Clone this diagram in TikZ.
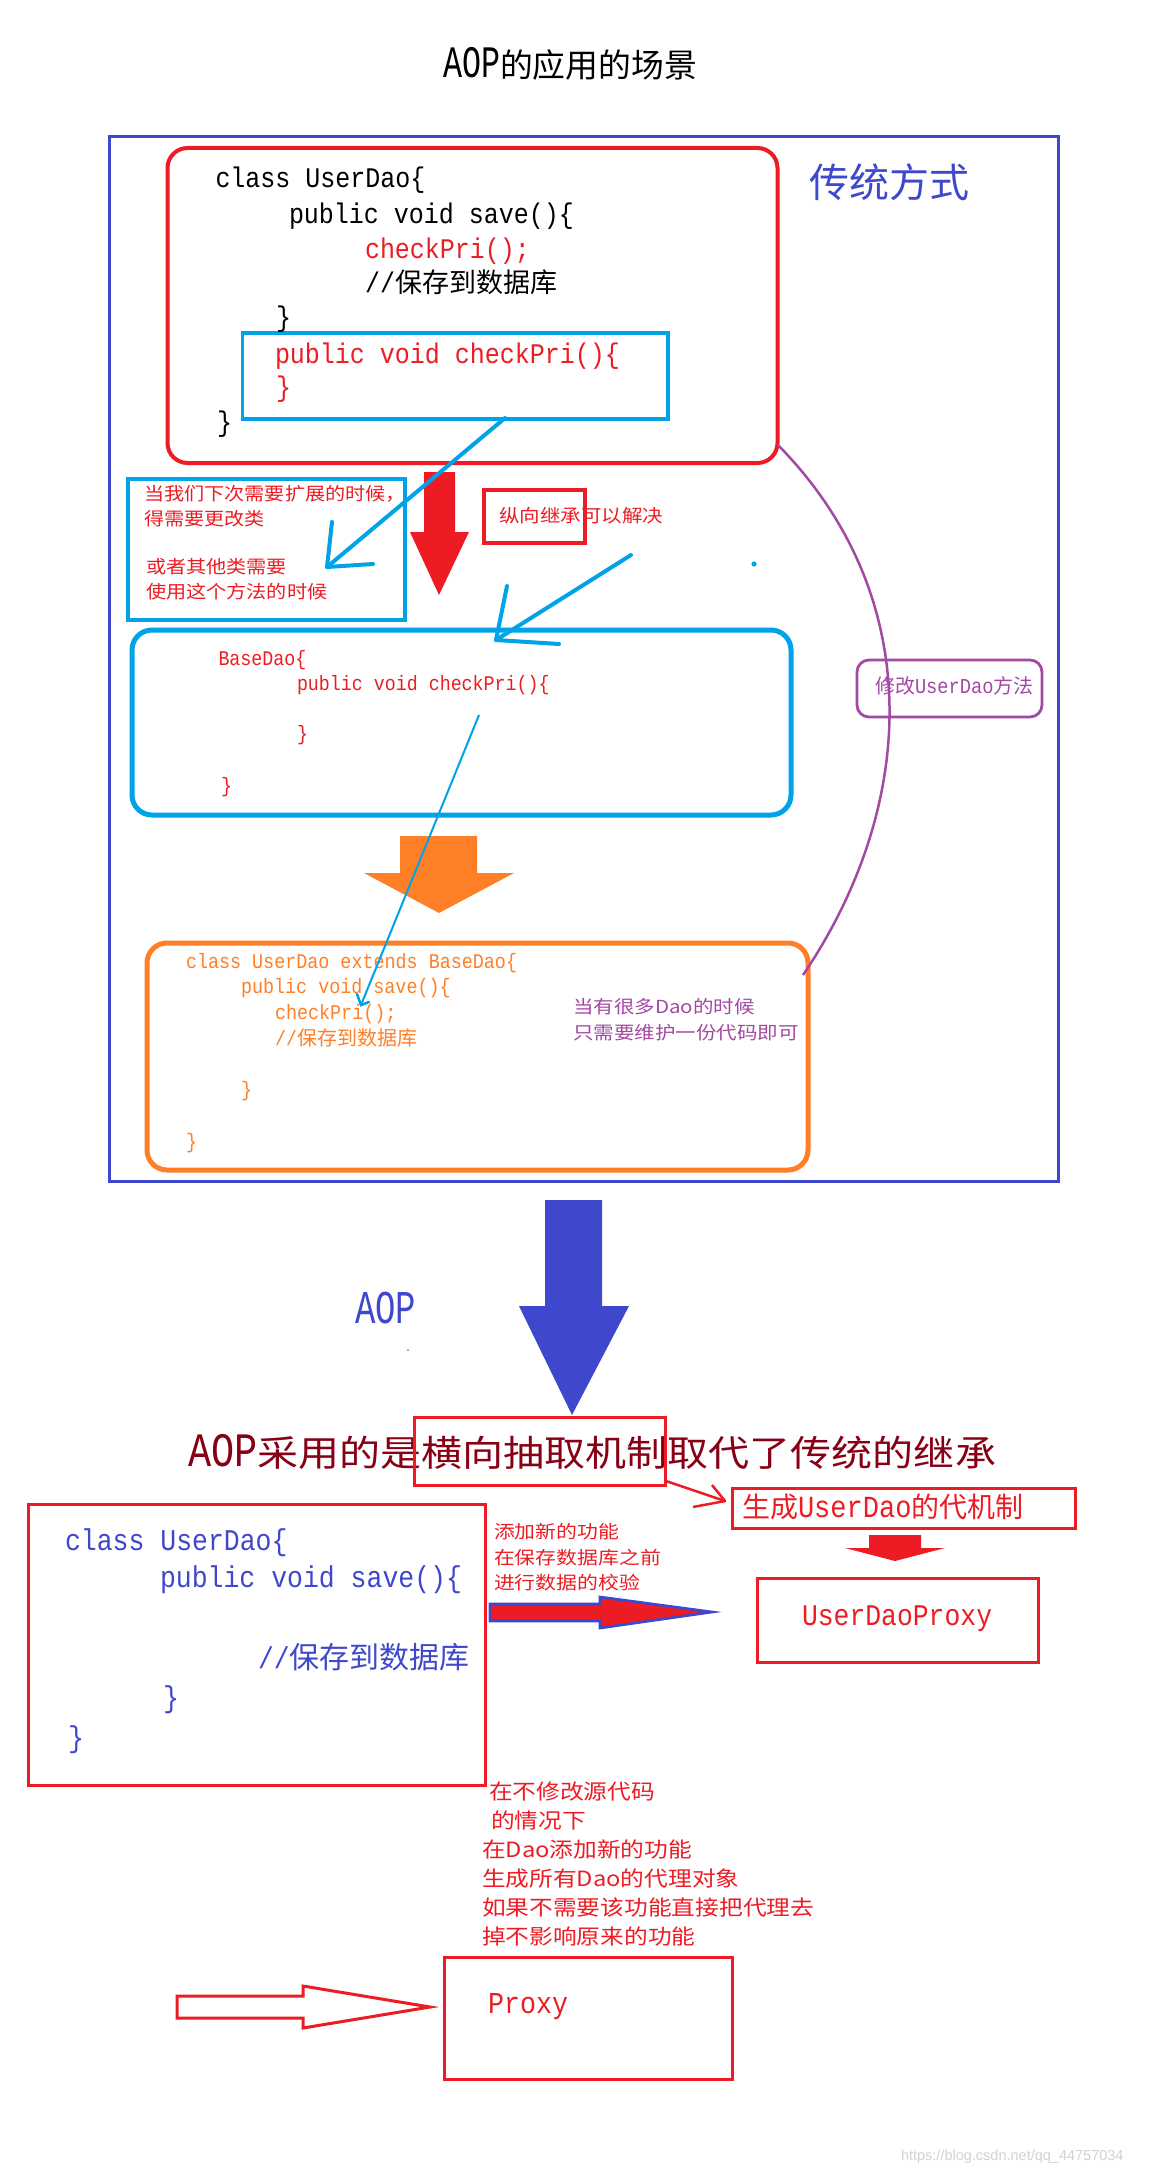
\documentclass[tikz,border=0pt]{standalone}
\usepackage{fontspec}
\usepackage{graphicx}
\setmainfont{Liberation Serif}
\newfontfamily\monof[FakeStretch=0.88]{Liberation Mono}
\newfontfamily\cjkf{Noto Sans CJK SC}
\newfontfamily\wmf{Liberation Sans}
\newcommand\fsz[1]{\fontsize{#1}{#1}\selectfont}
\newcommand\Cj[2]{{\cjkf\fsz{#1}#2}}
\newcommand\Mo[2]{{\monof\fsz{#1}#2}}
\newcommand\Hs[2]{\scalebox{#1}[1]{#2}}
\definecolor{pred}{HTML}{ED1C24}
\definecolor{pblue}{HTML}{3F48CC}
\definecolor{pcyan}{HTML}{00A2E8}
\definecolor{porange}{HTML}{FF7F27}
\definecolor{ppurple}{HTML}{A349A4}
\definecolor{pdark}{HTML}{880015}
\begin{document}
\begin{tikzpicture}[x=1pt,y=-1pt,
  txt/.style={inner sep=0pt, outer sep=0pt, anchor=base west},
  frame/.style={inner sep=0pt, outer sep=0pt},
  hand/.style={line width=4pt, line cap=round, line join=round}]
\useasboundingbox (0,0) rectangle (1150,2170);
\fill[white] (0,0) rectangle (1150,2170);

% ---------- title ----------
\node[txt] (title) at (443,78) {\Hs{0.8}{\Mo{45}{AOP}}\Cj{32.8}{的应用的场景}};

% ---------- traditional frame ----------
\node[frame, draw=pblue, line width=3pt, minimum width=949pt, minimum height=1044pt] (outer) at (583.5,659) {};
\node[txt, text=pblue] (trad) at (809,198) {\Cj{40}{传统方式}};

% red UserDao box
\node[frame, draw=pred, line width=4pt, rounded corners=20pt, minimum width=610pt, minimum height=315pt] (udbox) at (472.5,305.5) {};
\node[frame, draw=pcyan, line width=3.5pt, minimum width=425.5pt, minimum height=86pt] (cpbox) at (455,376) {};
\node[txt] (c1) at (215.5,188) {\Mo{28.4}{class UserDao\{}};
\node[txt] (c2) at (289,223) {\Mo{28.4}{public void save()\{}};
\node[txt, text=pred] (c3) at (365,258) {\Mo{28.4}{checkPri();}};
\node[txt] (c4) at (365,292) {\Mo{28.4}{//}\Cj{27}{保存到数据库}};
\node[txt] (c5) at (276,326) {\Mo{28.4}{\}}};
\node[txt, text=pred] (c6) at (275,363) {\Mo{28.4}{public void checkPri()\{}};
\node[txt, text=pred] (c7) at (276,396) {\Mo{28.4}{\}}};
\node[txt] (c8) at (217,431) {\Mo{28.4}{\}}};

% note box (blue)
\node[frame, draw=pcyan, line width=4pt, minimum width=277pt, minimum height=141pt] (notebox) at (266,549.5) {};
\node[txt, text=pred] (n1) at (144,500) {\Hs{1.12}{\Cj{18}{当我们下次需要扩展的时候，}}};
\node[txt, text=pred] (n2) at (144,525) {\Hs{1.12}{\Cj{18}{得需要更改类}}};
\node[txt, text=pred] (n3) at (146,573) {\Hs{1.12}{\Cj{18}{或者其他类需要}}};
\node[txt, text=pred] (n4) at (146,598) {\Hs{1.12}{\Cj{18}{使用这个方法的时候}}};

% red arrow down
\fill[pred] (424,472) -- (455,472) -- (455,532) -- (469,532) -- (439,595) -- (410,532) -- (424,532) -- cycle;

% vertical inheritance label
\node[frame, draw=pred, line width=3.5pt, minimum width=101pt, minimum height=53pt] (vbox) at (534.5,516.5) {};
\node[txt, text=pred] (vtext) at (499,522) {\Hs{1.14}{\Cj{18}{纵向继承可以解决}}};

% hand drawn cyan arrows
\coordinate (a1s) at (505,418);
\coordinate (a1e) at (327,567);
\coordinate (a1l) at (332,522);
\coordinate (a1r) at (373,564);
\draw[pcyan, hand] (a1s) -- (a1e);
\draw[pcyan, hand] (a1l) -- (a1e) -- (a1r);
\coordinate (a2s) at (631,555);
\coordinate (a2e) at (496,640);
\coordinate (a2l) at (507,586);
\coordinate (a2r) at (559,644);
\draw[pcyan, hand] (a2s) -- (a2e);
\draw[pcyan, hand] (a2l) -- (a2e) -- (a2r);
\fill[pcyan] (754,564) circle (2.6);

% BaseDao box
\node[frame, draw=pcyan, line width=5pt, rounded corners=20pt, minimum width=659pt, minimum height=185pt] (basebox) at (461.5,722.5) {};
\node[txt, text=pred] (b1) at (218.5,665) {\Mo{20.8}{BaseDao\{}};
\node[txt, text=pred] (b2) at (297,690) {\Mo{20.8}{public void checkPri()\{}};
\node[txt, text=pred] (b3) at (297,740) {\Mo{20.8}{\}}};
\node[txt, text=pred] (b4) at (221,792) {\Mo{20.8}{\}}};

% orange arrow
\fill[porange] (400,836) -- (477,836) -- (477,873) -- (514,873) -- (439,913) -- (364,873) -- (400,873) -- cycle;

% orange box
\node[frame, draw=porange, line width=5pt, rounded corners=20pt, minimum width=661pt, minimum height=227pt] (extbox) at (477.5,1056.5) {};
\node[txt, text=porange] (e1) at (186,968) {\Mo{20.9}{class UserDao extends BaseDao\{}};
\node[txt, text=porange] (e2) at (241,993) {\Mo{20.9}{public void save()\{}};
\node[txt, text=porange] (e3) at (275,1019) {\Mo{20.9}{checkPri();}};
\node[txt, text=porange] (e4) at (275,1045) {\Mo{20.9}{//}\Cj{20}{保存到数据库}};
\node[txt, text=porange] (e5) at (241,1096) {\Mo{20.9}{\}}};
\node[txt, text=porange] (e6) at (186,1148) {\Mo{20.9}{\}}};
\node[txt, text=ppurple] (p1) at (573,1013) {\Hs{1.14}{\Cj{18}{当有很多Dao的时候}}};
\node[txt, text=ppurple] (p2) at (573,1039) {\Hs{1.14}{\Cj{18}{只需要维护一份代码即可}}};

% thin cyan arrow BaseDao -> checkPri()
\coordinate (a3s) at (479,715);
\coordinate (a3e) at (361,1005);
\draw[pcyan, line width=2pt] (a3s) -- (a3e);
\draw[pcyan, line width=2.5pt, line cap=round] (357,994) -- (a3e) -- (369,1002);

% purple curve and label
\coordinate (pc1) at (778,445);
\coordinate (pc2) at (803,975);
\draw[ppurple, line width=2.5pt] (pc1) .. controls (930,600) and (915,810) .. (pc2);
\node[frame, draw=ppurple, line width=2.8pt, rounded corners=12pt, minimum width=185pt, minimum height=57pt] (modbox) at (949.5,688.5) {};
\node[txt, text=ppurple] (modtext) at (875,693) {\Cj{20}{修改}\Mo{21.25}{UserDao}\Cj{20}{方法}};

% ---------- AOP part ----------
\fill[pblue] (545,1200) -- (602,1200) -- (602,1306) -- (629,1306) -- (572,1415) -- (519,1306) -- (545,1306) -- cycle;
\node[txt, text=pblue] (aop) at (355,1323) {\Hs{0.82}{\Mo{47}{AOP}}};
\fill[gray] (408,1350) circle (1);

\node[txt, text=pdark] (aoptitle) at (188,1466) {\Hs{1.14}{\Hs{0.8}{\Mo{48}{AOP}}\Cj{36}{采用的是横向抽取机制取代了传统的继承}}};
\node[frame, draw=pred, line width=3pt, minimum width=251pt, minimum height=68pt] (hbox) at (539.5,1451) {};

\node[frame, draw=pred, line width=3pt, minimum width=343pt, minimum height=40pt] (genbox) at (903.5,1508) {};
\node[txt, text=pred] (gentext) at (742,1517) {\Cj{28}{生成}\Mo{30.7}{UserDao}\Cj{28}{的代机制}};
\coordinate (a4s) at (666,1481);
\coordinate (a4e) at (725,1501);
\draw[pred, line width=2.5pt] (a4s) -- (a4e);
\draw[pred, line width=2.5pt, line join=round] (712,1485) -- (a4e) -- (693,1507);

\fill[pred] (869,1535) -- (921,1535) -- (921,1548) -- (945,1548) -- (895,1561) -- (845,1548) -- (869,1548) -- cycle;

\node[frame, draw=pred, line width=3pt, minimum width=281pt, minimum height=84pt] (proxybox) at (897.5,1620) {};
\node[txt, text=pred] (proxytext) at (802,1625) {\Mo{30}{UserDaoProxy}};

% left code box
\node[frame, draw=pred, line width=3pt, minimum width=457pt, minimum height=281pt] (codebox) at (256.5,1644.5) {};
\node[txt, text=pblue] (d1) at (65,1550) {\Mo{30.1}{class UserDao\{}};
\node[txt, text=pblue] (d2) at (160,1587) {\Mo{30.1}{public void save()\{}};
\node[txt, text=pblue] (d3) at (258,1668) {\Mo{30.1}{//}\Cj{30}{保存到数据库}};
\node[txt, text=pblue] (d4) at (163,1707) {\Mo{30.1}{\}}};
\node[txt, text=pblue] (d5) at (68,1747) {\Mo{30.1}{\}}};

\node[txt, text=pred] (r1) at (494,1538) {\Hs{1.16}{\Cj{18}{添加新的功能}}};
\node[txt, text=pred] (r2) at (494,1564) {\Hs{1.16}{\Cj{18}{在保存数据库之前}}};
\node[txt, text=pred] (r3) at (494,1589) {\Hs{1.16}{\Cj{18}{进行数据的校验}}};

\fill[pred] (490,1604) -- (600,1604) -- (600,1597) -- (712,1612) -- (600,1628) -- (600,1621) -- (490,1621) -- cycle;
\draw[pblue, line width=2.7pt, line join=miter] (490,1604) -- (600,1604) -- (600,1597) -- (712,1612) -- (600,1628) -- (600,1621) -- (490,1621) -- cycle;

% bottom notes
\node[txt, text=pred] (s1) at (489,1799) {\Hs{1.13}{\Cj{21}{在不修改源代码}}};
\node[txt, text=pred] (s2) at (491,1828) {\Hs{1.13}{\Cj{21}{的情况下}}};
\node[txt, text=pred] (s3) at (482,1857) {\Hs{1.13}{\Cj{21}{在Dao添加新的功能}}};
\node[txt, text=pred] (s4) at (482,1886) {\Hs{1.13}{\Cj{21}{生成所有Dao的代理对象}}};
\node[txt, text=pred] (s5) at (482,1915) {\Hs{1.13}{\Cj{21}{如果不需要该功能直接把代理去}}};
\node[txt, text=pred] (s6) at (482,1944) {\Hs{1.13}{\Cj{21}{掉不影响原来的功能}}};

\draw[pred, line width=3pt, line join=miter] (177,1996) -- (303,1996) -- (303,1986) -- (430,2007) -- (303,2028) -- (303,2018) -- (177,2018) -- cycle;
\node[frame, draw=pred, line width=3pt, minimum width=288pt, minimum height=122pt] (pbox) at (588,2018) {};
\node[txt, text=pred] (ptext) at (488,2013) {\Mo{30.3}{Proxy}};

\node[txt, text=gray!35] (wm) at (901,2160) {\wmf\fsz{14.5}https://blog.csdn.net/qq\_44757034};
\end{tikzpicture}
\end{document}
